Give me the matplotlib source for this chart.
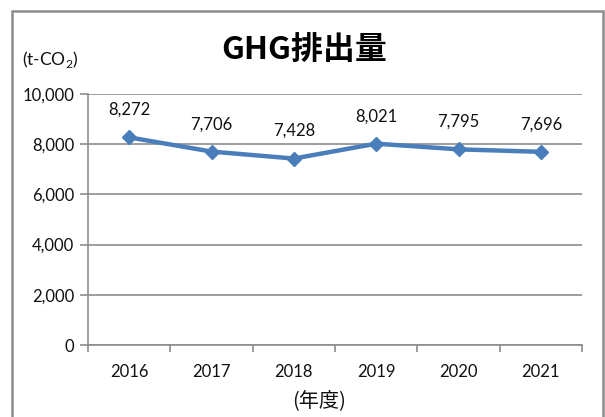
import matplotlib
matplotlib.use("Agg")
import matplotlib.pyplot as plt
from matplotlib.patches import Rectangle
from matplotlib.ticker import FuncFormatter, FixedLocator

years = ["2016", "2017", "2018", "2019", "2020", "2021"]
emissions = [8272, 7706, 7428, 8021, 7795, 7696]
y_ticks = [0, 2000, 4000, 6000, 8000, 10000]

plt.rcParams['font.family'] = ['Lato', 'Noto Sans CJK JP', 'DejaVu Sans']
plt.rcParams['mathtext.fontset'] = 'custom'
plt.rcParams['mathtext.rm'] = 'Lato'

W, H = 605, 417
fig = plt.figure(figsize=(W/100, H/100), dpi=100)
fig.patch.set_facecolor('white')

# outer chart border
fig.patches.append(Rectangle((12/W, -0.05), (603-12)/W, 1.05 - 11/H,
                             transform=fig.transFigure, fill=False,
                             edgecolor='#8c8c8c', linewidth=1.8))

ax = fig.add_axes([88/W, 1-345/H, (582-88)/W, (345-94)/H])
x = list(range(len(years)))
ax.plot(x, emissions, color='#4a7ebb', linewidth=3.2, marker='D',
        markersize=7.5, markerfacecolor='#4a7ebb', markeredgecolor='#4a7ebb',
        solid_joinstyle='round', zorder=3)

for xi, v in zip(x, emissions):
    ax.annotate(f"{v:,}", (xi, v), xytext=(0, 14), textcoords='offset points',
                ha='center', va='bottom', fontsize=12, color='#111111')

ax.set_xlim(-0.5, len(years) - 0.5)
ax.set_ylim(0, 10000)
ax.set_yticks(y_ticks)
ax.yaxis.set_major_formatter(FuncFormatter(lambda v, p: f"{int(v):,}"))
ax.set_xticks(x)
ax.set_xticklabels(years)
ax.xaxis.set_minor_locator(FixedLocator([i + 0.5 for i in range(-1, len(years))]))
ax.tick_params(axis='x', which='major', length=0, pad=14, labelsize=12, colors='#111111')
ax.tick_params(axis='x', which='minor', length=5, color='#8c8c8c', width=1.2)
ax.tick_params(axis='y', which='major', length=6, color='#8c8c8c', width=1.2,
               pad=4, labelsize=12, colors='#8c8c8c', labelcolor='#111111')

ax.grid(axis='y', color='#8c8c8c', linewidth=1.2)
ax.set_axisbelow(True)
for s in ['top', 'right']:
    ax.spines[s].set_visible(False)
for s in ['left', 'bottom']:
    ax.spines[s].set_color('#8c8c8c')
    ax.spines[s].set_linewidth(1.2)

fig.text(304/W, 1-50/H, "GHG排出量", ha='center', va='center', fontsize=23,
         fontweight='bold', family=['Noto Sans CJK JP'], color='black')
fig.text(22/W, 1-60/H, r"(t-CO$_2$)", ha='left', va='center', fontsize=12.5,
         color='#111111')
fig.text(319/W, 1-401/H, "(年度)", ha='center', va='center', fontsize=14.5,
         family=['Noto Sans CJK JP'], color='#111111')

fig.savefig("out.png", dpi=100)
